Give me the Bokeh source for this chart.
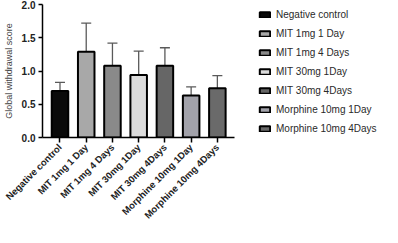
from bokeh.plotting import figure
from bokeh.models import (ColumnDataSource, FixedTicker, Legend, LegendItem,
                          Whisker, TeeHead, Range1d)
from bokeh.embed import file_html
from bokeh.resources import INLINE
import math

categories = ["Negative control", "MIT 1mg 1 Day", "MIT 1mg 4 Days", "MIT 30mg 1Day",
              "MIT 30mg 4Days", "Morphine 10mg 1Day", "Morphine 10mg 4Days"]
means = [0.70, 1.29, 1.08, 0.94, 1.08, 0.63, 0.74]
errors = [0.13, 0.43, 0.34, 0.36, 0.27, 0.13, 0.19]
colors = ["#0a0a0a", "#a8a8a8", "#8a8a8a", "#dcdcdc", "#666666", "#a2a2aa", "#6a6a6a"]

xs = list(range(len(categories)))
src = ColumnDataSource(dict(x=xs, top=means, upper=[m + e for m, e in zip(means, errors)]))

# frame spans the whole width so the legend (drawn inside the frame) is not clipped
p = figure(width=382, height=227, output_backend="svg", toolbar_location=None,
           x_range=Range1d(-0.667, 12.296), y_range=Range1d(0, 2.0),
           min_border_left=32, min_border_right=0, min_border_top=4, min_border_bottom=84)
p.outline_line_color = None
p.grid.grid_line_color = None
p.background_fill_color = None
p.border_fill_color = None

w = Whisker(source=src, base="x", lower="top", upper="upper", dimension="height",
            line_color="#5a5a5a", line_width=1.3,
            upper_head=TeeHead(size=10, line_color="#5a5a5a", line_width=1.3),
            lower_head=None)
p.add_layout(w)

items = []
for i in xs:
    r = p.vbar(x=[xs[i]], width=0.63, top=[means[i]], bottom=0,
               fill_color=colors[i], line_color="#000000", line_width=2)
    items.append(LegendItem(label=categories[i], renderers=[r]))

leg = Legend(items=items, location=(216, 3), glyph_width=13, glyph_height=7,
             label_height=12, spacing=7, padding=0, margin=0,
             label_standoff=5, label_text_font="Liberation Sans",
             label_text_font_size="10px", label_text_color="#2a2a2a",
             border_line_color=None, background_fill_alpha=0)
p.add_layout(leg)

p.xaxis.bounds = (-0.667, 6.667)
p.xaxis.ticker = FixedTicker(ticks=xs)
p.xaxis.major_label_overrides = {i: c for i, c in enumerate(categories)}
p.xaxis.major_label_orientation = math.pi / 4
p.xaxis.major_label_text_font = "Liberation Sans"
p.xaxis.major_label_text_font_style = "bold"
p.xaxis.major_label_text_font_size = "9.5px"
p.xaxis.major_label_text_color = "#222222"
p.xaxis.minor_tick_line_color = None
p.xaxis.major_tick_in = 0
p.xaxis.major_tick_out = 5
p.xaxis.axis_line_width = 1.5
p.xaxis.major_tick_line_width = 1.5
p.xaxis.major_label_standoff = 3

p.yaxis.ticker = FixedTicker(ticks=[0, 0.5, 1.0, 1.5, 2.0])
p.yaxis.major_label_overrides = {0: "0.0", 0.5: "0.5", 1.0: "1.0", 1.5: "1.5", 2.0: "2.0"}
p.yaxis.major_label_text_font = "Liberation Sans"
p.yaxis.major_label_text_font_style = "bold"
p.yaxis.major_label_text_font_size = "10px"
p.yaxis.major_label_text_color = "#222222"
p.yaxis.minor_tick_line_color = None
p.yaxis.major_tick_in = 0
p.yaxis.major_tick_out = 4
p.yaxis.axis_line_width = 1.5
p.yaxis.major_tick_line_width = 1.5
p.yaxis.major_label_standoff = 3
p.yaxis.axis_label = "Global withdrawal score"
p.yaxis.axis_label_text_font = "Liberation Sans"
p.yaxis.axis_label_text_font_style = "normal"
p.yaxis.axis_label_text_font_size = "9px"
p.yaxis.axis_label_text_color = "#444444"
p.yaxis.axis_label_standoff = 5

open("out.html", "w").write(file_html(p, INLINE))
